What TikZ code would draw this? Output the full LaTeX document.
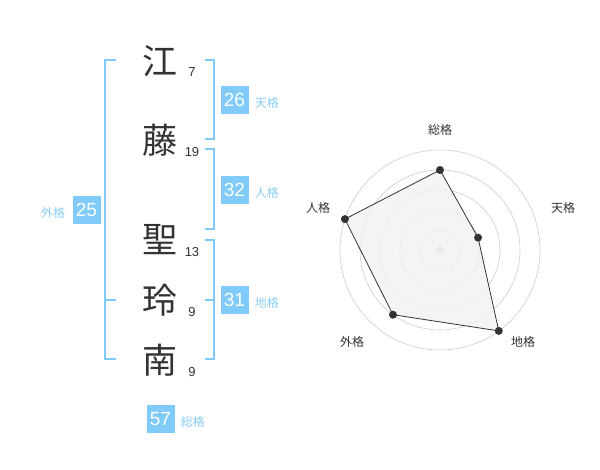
\documentclass[tikz,border=0pt]{standalone}
\usepackage{fontspec}
\setmainfont{Liberation Sans}
\newfontfamily\jp{Noto Sans CJK JP}
\usetikzlibrary{positioning,calc}
\definecolor{kakusky}{HTML}{80CBFA}
\definecolor{kakutext}{HTML}{88CDF4}
\definecolor{inkgray}{HTML}{333333}
\definecolor{ringgray}{HTML}{CCCCCC}
\definecolor{areagray}{HTML}{F1F1F1}

\begin{document}
\begin{tikzpicture}[x=1pt,y=-1pt]
	\tikzstyle{kanji} = [font=\jp\fontsize{35}{35}\selectfont,text=inkgray,inner sep=0pt]
	\tikzstyle{strokes} = [font=\fontsize{13}{13}\selectfont,text=inkgray,inner sep=0pt]
	\tikzstyle{kakubox} = [fill=kakusky,text=white,minimum size=28pt,inner sep=0pt,font=\fontsize{19}{19}\selectfont]
	\tikzstyle{kakulabel} = [text=kakutext,font=\jp\fontsize{12}{12}\selectfont,inner sep=0pt,yshift=-3pt]
	\tikzstyle{bracket} = [draw=kakusky,line width=2pt]
	\tikzstyle{ring} = [draw=ringgray,line width=0.6pt]
	\tikzstyle{axislabel} = [text=inkgray,font=\jp\fontsize{12}{12}\selectfont,inner sep=0pt]
	\tikzstyle{dot} = [circle,fill=inkgray,inner sep=0pt,minimum size=8pt]
	\useasboundingbox (0,0) rectangle (600,470);

	% name
	\node[kanji] (c1) at (160,61) {江};
	\node[kanji] (c2) at (160,140) {藤};
	\node[kanji] (c3) at (160,240) {聖};
	\node[kanji] (c4) at (160,300) {玲};
	\node[kanji] (c5) at (160,360) {南};
	\node[strokes] (n1) at (192,72) {7};
	\node[strokes] (n2) at (192,152) {19};
	\node[strokes] (n3) at (192,252) {13};
	\node[strokes] (n4) at (192,312) {9};
	\node[strokes] (n5) at (192,372) {9};

	% brackets
	\draw[bracket] (116,60) -- (105,60) -- (105,359) -- (116,359);
	\draw[bracket] (105,300) -- (116,300);
	\draw[bracket] (205,60) -- (214,60) -- (214,139) -- (205,139);
	\draw[bracket] (205,149) -- (214,149) -- (214,229) -- (205,229);
	\draw[bracket] (205,240) -- (214,240) -- (214,359) -- (205,359);
	\draw[bracket] (205,300) -- (214,300);

	% kaku
	\node[kakubox] (ten) at (234.5,100) {26};
	\node[kakubox] (jin) at (234.5,190) {32};
	\node[kakubox] (chi) at (234.5,300) {31};
	\node[kakubox] (gai) at (86.5,210) {25};
	\node[kakubox] (sou) at (160.5,419) {57};
	\node[kakulabel,right=6pt of ten] (tenl) {天格};
	\node[kakulabel,right=6pt of jin] (jinl) {人格};
	\node[kakulabel,right=6pt of chi] (chil) {地格};
	\node[kakulabel,left=7pt of gai] (gail) {外格};
	\node[kakulabel,right=6pt of sou] (soul) {総格};

	% radar
	\coordinate (o) at (440,250);
	\foreach \r in {20,40,60,80,100}
		\draw[ring] (o) circle[radius=\r];
	\fill[ringgray] (o) circle[radius=4];
	\coordinate (p1) at ($(o)+(-90:80)$);
	\coordinate (p2) at ($(o)+(-18:40)$);
	\coordinate (p3) at ($(o)+(54:100)$);
	\coordinate (p4) at ($(o)+(126:80)$);
	\coordinate (p5) at ($(o)+(198:100)$);
	\draw[fill=areagray,fill opacity=0.8,draw=inkgray,line width=0.8pt] (p1) -- (p2) -- (p3) -- (p4) -- (p5) -- cycle;
	\foreach \p in {p1,p2,p3,p4,p5}
		\node[dot] at (\p) {};
	\node[axislabel] (a1) at (440,130) {総格};
	\node[axislabel] (a2) at (563,208) {天格};
	\node[axislabel] (a3) at (523,342) {地格};
	\node[axislabel] (a4) at (352,342) {外格};
	\node[axislabel] (a5) at (318,208) {人格};
\end{tikzpicture}
\end{document}
